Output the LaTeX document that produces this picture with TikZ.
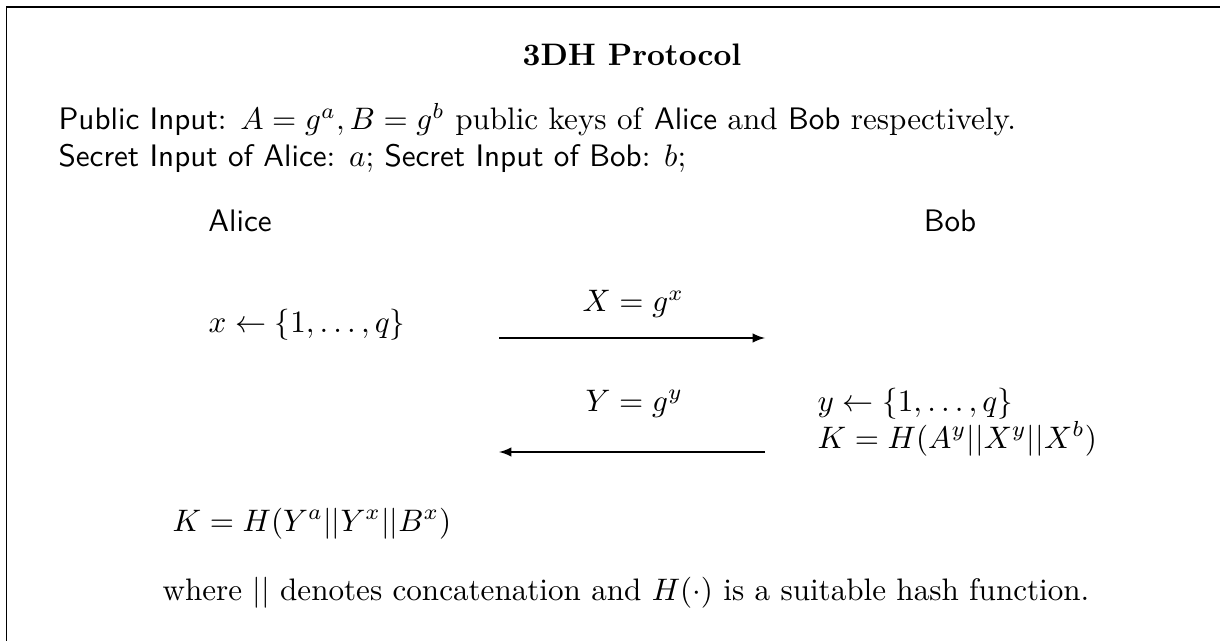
\documentclass[tikz,border=0pt]{standalone}
\usepackage{amsmath}
\begin{document}
\begin{tikzpicture}[x=0.32154pt,y=-0.32154pt,
  txt/.style={inner sep=0pt, anchor=base west},
  ctxt/.style={inner sep=0pt, anchor=base},
  msg/.style={-latex, line width=0.4pt}]
\useasboundingbox (0,0) rectangle (1220,641);
\draw[line width=0.5pt] (6.5,7) rectangle (1260,680);
\node[ctxt] (title) at (632,66) {\textbf{3DH Protocol}};
\node[txt] (pub) at (58,130) {\textsf{Public Input}: $A = g^a, B = g^b$ public keys of \textsf{Alice} and \textsf{Bob} respectively.};
\node[txt] (sec) at (58,167) {\textsf{Secret Input of Alice}: $a$; \textsf{Secret Input of Bob}: $b$;};
\node[ctxt] (alice) at (240,232) {\textsf{Alice}};
\node[ctxt] (bob) at (950,232) {\textsf{Bob}};
\node[txt] (xsel) at (208,332) {$x \leftarrow \{1,\ldots,q\}$};
\node[txt] (Xlab) at (582,312) {$X = g^x$};
\coordinate (m1s) at (499,338);
\coordinate (m1e) at (765,338);
\draw[msg] (m1s) -- (m1e);
\node[txt] (Ylab) at (585,411) {$Y = g^y$};
\node[txt] (ysel) at (817,411) {$y \leftarrow \{1,\ldots,q\}$};
\node[txt] (Kb) at (817,448) {$K = H(A^y||X^y||X^b)$};
\coordinate (m2s) at (765,452);
\coordinate (m2e) at (499,452);
\draw[msg] (m2s) -- (m2e);
\node[txt] (Ka) at (172,531) {$K = H(Y^a||Y^x||B^x)$};
\node[txt] (note) at (162,600) {where $||$ denotes concatenation and $H(\cdot)$ is a suitable hash function.};
\end{tikzpicture}
\end{document}
